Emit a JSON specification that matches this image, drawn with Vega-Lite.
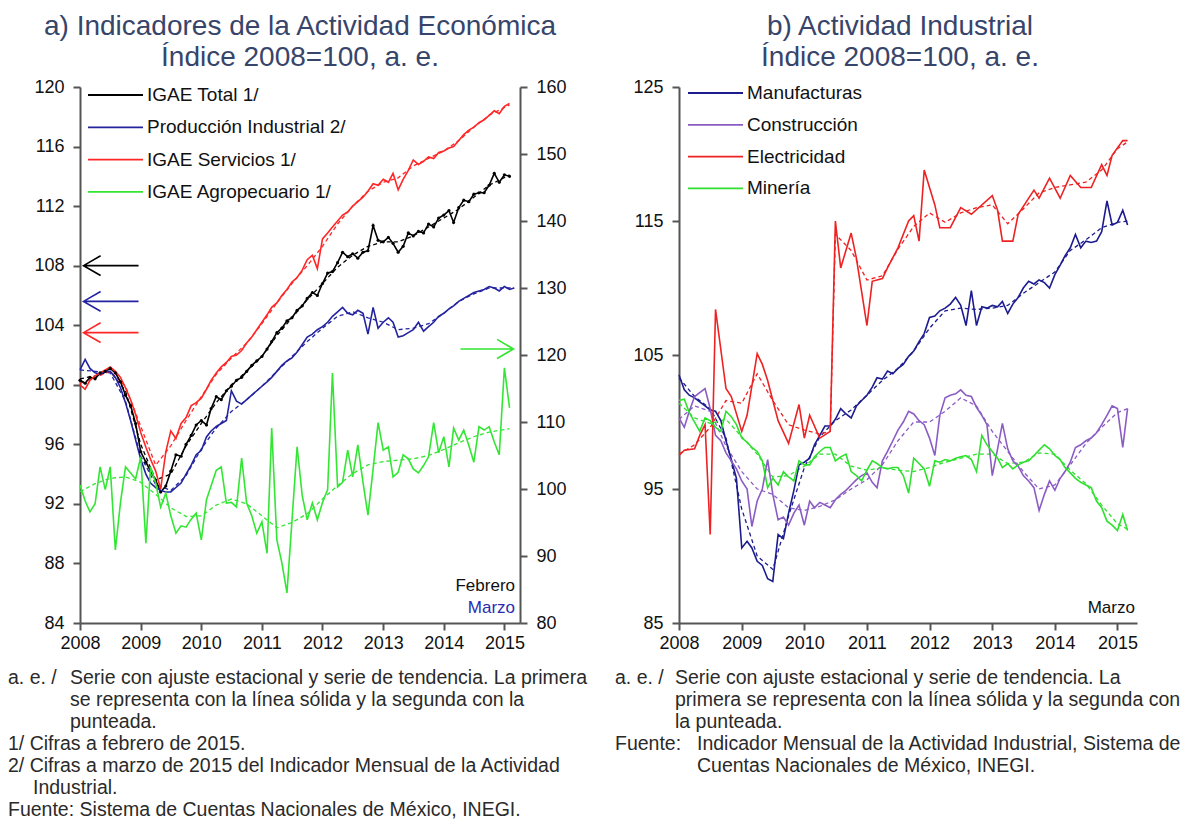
{
  "$schema": "https://vega.github.io/schema/vega-lite/v6.json",
  "padding": {"left": 8, "top": 13, "right": 0, "bottom": 0},
  "datasets": {
    "a_ae": [
      {"fecha":"2008-01","T":100.3,"P":101.0,"S":100.0,"A":100.6},
      {"fecha":"2008-02","T":100.1,"P":101.7,"S":99.7,"A":98.2},
      {"fecha":"2008-03","T":100.5,"P":101.1,"S":100.3,"A":96.6},
      {"fecha":"2008-04","T":100.4,"P":100.8,"S":100.6,"A":97.8},
      {"fecha":"2008-05","T":100.8,"P":100.7,"S":100.8,"A":103.3},
      {"fecha":"2008-06","T":100.9,"P":100.9,"S":101.0,"A":99.9},
      {"fecha":"2008-07","T":101.1,"P":100.9,"S":101.2,"A":103.3},
      {"fecha":"2008-08","T":100.8,"P":100.5,"S":100.9,"A":90.9},
      {"fecha":"2008-09","T":100.2,"P":99.8,"S":100.5,"A":98.0},
      {"fecha":"2008-10","T":99.3,"P":98.8,"S":99.8,"A":103.3},
      {"fecha":"2008-11","T":98.6,"P":97.6,"S":99.0,"A":102.4},
      {"fecha":"2008-12","T":97.4,"P":96.3,"S":98.0,"A":101.5},
      {"fecha":"2009-01","T":95.5,"P":95.0,"S":96.8,"A":104.8},
      {"fecha":"2009-02","T":94.8,"P":94.0,"S":95.8,"A":91.9},
      {"fecha":"2009-03","T":94.2,"P":93.4,"S":95.0,"A":103.3},
      {"fecha":"2009-04","T":93.6,"P":93.1,"S":94.2,"A":100.9},
      {"fecha":"2009-05","T":92.8,"P":92.9,"S":93.0,"A":97.3},
      {"fecha":"2009-06","T":93.2,"P":92.8,"S":95.5,"A":99.4},
      {"fecha":"2009-07","T":94.2,"P":92.8,"S":96.9,"A":96.0},
      {"fecha":"2009-08","T":95.3,"P":93.1,"S":96.4,"A":93.4},
      {"fecha":"2009-09","T":95.2,"P":93.4,"S":97.4,"A":94.5},
      {"fecha":"2009-10","T":96.0,"P":94.0,"S":97.8,"A":94.3},
      {"fecha":"2009-11","T":96.6,"P":94.6,"S":98.6,"A":95.5},
      {"fecha":"2009-12","T":97.3,"P":95.3,"S":98.8,"A":96.4},
      {"fecha":"2010-01","T":97.6,"P":95.6,"S":99.1,"A":92.4},
      {"fecha":"2010-02","T":97.3,"P":96.5,"S":99.7,"A":98.4},
      {"fecha":"2010-03","T":98.4,"P":96.9,"S":100.3,"A":100.5},
      {"fecha":"2010-04","T":99.2,"P":97.2,"S":100.8,"A":102.8},
      {"fecha":"2010-05","T":99.0,"P":97.4,"S":101.2,"A":103.3},
      {"fecha":"2010-06","T":99.6,"P":97.6,"S":101.5,"A":97.9},
      {"fecha":"2010-07","T":99.9,"P":99.6,"S":101.9,"A":98.0},
      {"fecha":"2010-08","T":100.3,"P":98.9,"S":102.0,"A":97.3},
      {"fecha":"2010-09","T":100.5,"P":98.7,"S":102.3,"A":104.6},
      {"fecha":"2010-10","T":100.9,"P":99.0,"S":102.8,"A":97.9},
      {"fecha":"2010-11","T":101.3,"P":99.3,"S":103.2,"A":96.0},
      {"fecha":"2010-12","T":101.6,"P":99.6,"S":103.7,"A":93.4},
      {"fecha":"2011-01","T":101.9,"P":99.9,"S":104.2,"A":95.1},
      {"fecha":"2011-02","T":102.4,"P":100.2,"S":104.7,"A":90.4},
      {"fecha":"2011-03","T":102.9,"P":100.5,"S":105.2,"A":109.1},
      {"fecha":"2011-04","T":103.5,"P":100.9,"S":105.5,"A":92.4},
      {"fecha":"2011-05","T":103.8,"P":101.3,"S":106.0,"A":89.0},
      {"fecha":"2011-06","T":104.3,"P":101.6,"S":106.4,"A":84.5},
      {"fecha":"2011-07","T":104.5,"P":101.8,"S":106.9},
      {"fecha":"2011-08","T":105.0,"P":102.2,"S":107.2,"A":106.3},
      {"fecha":"2011-09","T":105.3,"P":102.7,"S":107.7,"A":99.0},
      {"fecha":"2011-10","T":105.8,"P":103.2,"S":108.4,"A":95.4},
      {"fecha":"2011-11","T":106.2,"P":103.4,"S":108.7,"A":97.9},
      {"fecha":"2011-12","T":106.0,"P":103.7,"S":107.8,"A":95.4},
      {"fecha":"2012-01","T":106.8,"P":103.9,"S":109.8,"A":98.0},
      {"fecha":"2012-02","T":107.5,"P":104.2,"S":110.2,"A":99.9},
      {"fecha":"2012-03","T":107.6,"P":104.6,"S":110.6,"A":117.3},
      {"fecha":"2012-04","T":108.2,"P":104.9,"S":111.0,"A":100.3},
      {"fecha":"2012-05","T":108.9,"P":105.2,"S":111.4,"A":101.0},
      {"fecha":"2012-06","T":108.6,"P":104.8,"S":111.6,"A":105.8},
      {"fecha":"2012-07","T":108.8,"P":104.7,"S":112.0,"A":101.8},
      {"fecha":"2012-08","T":108.5,"P":105.0,"S":112.3,"A":106.6},
      {"fecha":"2012-09","T":108.9,"P":104.8,"S":112.6,"A":101.0},
      {"fecha":"2012-10","T":109.0,"P":103.4,"S":113.0,"A":96.1},
      {"fecha":"2012-11","T":110.7,"P":105.2,"S":113.5,"A":103.0},
      {"fecha":"2012-12","T":109.7,"P":103.8,"S":113.4,"A":109.9},
      {"fecha":"2013-01","T":109.6,"P":104.2,"S":113.8,"A":105.8},
      {"fecha":"2013-02","T":109.9,"P":104.5,"S":113.6,"A":106.3},
      {"fecha":"2013-03","T":109.5,"P":104.2,"S":114.2,"A":101.8},
      {"fecha":"2013-04","T":108.9,"P":103.2,"S":113.1,"A":102.5},
      {"fecha":"2013-05","T":109.3,"P":103.3,"S":113.8,"A":105.1},
      {"fecha":"2013-06","T":110.2,"P":103.5,"S":114.4,"A":104.5},
      {"fecha":"2013-07","T":110.0,"P":103.7,"S":115.1,"A":103.0},
      {"fecha":"2013-08","T":110.3,"P":104.2,"S":114.8,"A":102.4},
      {"fecha":"2013-09","T":110.2,"P":103.6,"S":115.0,"A":103.5},
      {"fecha":"2013-10","T":110.8,"P":103.9,"S":115.3,"A":104.8},
      {"fecha":"2013-11","T":110.6,"P":104.2,"S":115.2,"A":109.9},
      {"fecha":"2013-12","T":111.2,"P":104.6,"S":115.6,"A":105.4},
      {"fecha":"2014-01","T":111.4,"P":104.8,"S":115.7,"A":107.8},
      {"fecha":"2014-02","T":111.7,"P":105.1,"S":115.9,"A":103.3},
      {"fecha":"2014-03","T":110.9,"P":105.3,"S":116.0,"A":109.1},
      {"fecha":"2014-04","T":111.9,"P":105.6,"S":116.4,"A":107.3},
      {"fecha":"2014-05","T":112.4,"P":105.8,"S":116.8,"A":108.8},
      {"fecha":"2014-06","T":112.3,"P":106.0,"S":117.1,"A":106.5},
      {"fecha":"2014-07","T":112.8,"P":106.2,"S":117.3,"A":104.0},
      {"fecha":"2014-08","T":112.9,"P":106.3,"S":117.6,"A":109.3},
      {"fecha":"2014-09","T":112.9,"P":106.4,"S":117.8,"A":108.8},
      {"fecha":"2014-10","T":113.4,"P":106.6,"S":118.1,"A":109.3},
      {"fecha":"2014-11","T":114.2,"P":106.5,"S":118.4,"A":107.0},
      {"fecha":"2014-12","T":113.6,"P":106.3,"S":118.2,"A":105.1},
      {"fecha":"2015-01","T":114.1,"P":106.6,"S":118.7,"A":118.1},
      {"fecha":"2015-02","T":114.0,"P":106.4,"S":118.9,"A":112.1},
      {"fecha":"2015-03","P":106.5}
    ],
    "a_tend": [
      {"fecha":"2008-01","T":100.4,"P":101.0,"S":100.1,"A":99.6},
      {"fecha":"2008-04","T":100.6,"P":100.9,"S":100.5,"A":100.8},
      {"fecha":"2008-07","T":100.9,"P":100.8,"S":100.9,"A":101.6},
      {"fecha":"2008-10","T":99.6,"P":98.9,"S":99.9,"A":101.8},
      {"fecha":"2009-01","T":96.0,"P":95.2,"S":97.2,"A":101.0},
      {"fecha":"2009-04","T":93.6,"P":93.3,"S":94.6,"A":99.2},
      {"fecha":"2009-07","T":94.0,"P":92.9,"S":95.9,"A":97.2},
      {"fecha":"2009-10","T":95.9,"P":93.9,"S":97.6,"A":95.9},
      {"fecha":"2010-01","T":97.4,"P":95.7,"S":99.2,"A":96.0},
      {"fecha":"2010-04","T":98.8,"P":97.1,"S":100.7,"A":97.6},
      {"fecha":"2010-07","T":100.0,"P":98.2,"S":101.8,"A":98.5},
      {"fecha":"2010-10","T":100.9,"P":99.0,"S":102.8,"A":97.8},
      {"fecha":"2011-01","T":101.9,"P":99.9,"S":104.1,"A":96.0},
      {"fecha":"2011-04","T":103.3,"P":100.9,"S":105.5,"A":94.2},
      {"fecha":"2011-07","T":104.5,"P":101.9,"S":106.8,"A":95.0},
      {"fecha":"2011-10","T":105.7,"P":102.9,"S":108.0,"A":96.3},
      {"fecha":"2012-01","T":106.8,"P":103.8,"S":109.3,"A":98.5},
      {"fecha":"2012-04","T":107.9,"P":104.6,"S":110.8,"A":100.5},
      {"fecha":"2012-07","T":108.7,"P":104.9,"S":112.0,"A":102.3},
      {"fecha":"2012-10","T":109.3,"P":104.5,"S":113.0,"A":103.6},
      {"fecha":"2013-01","T":109.6,"P":104.2,"S":113.6,"A":104.1},
      {"fecha":"2013-04","T":109.6,"P":103.7,"S":113.9,"A":104.3},
      {"fecha":"2013-07","T":110.0,"P":103.8,"S":114.7,"A":104.5},
      {"fecha":"2013-10","T":110.6,"P":104.1,"S":115.2,"A":105.0},
      {"fecha":"2014-01","T":111.2,"P":104.8,"S":115.7,"A":105.9},
      {"fecha":"2014-04","T":111.8,"P":105.6,"S":116.4,"A":106.9},
      {"fecha":"2014-07","T":112.6,"P":106.1,"S":117.3,"A":107.8},
      {"fecha":"2014-10","T":113.4,"P":106.5,"S":118.1,"A":108.5},
      {"fecha":"2015-02","T":114.1,"P":106.5,"S":118.8,"A":109.0},
      {"fecha":"2015-03","P":106.5}
    ],
    "a_flechas": [
      {"fecha":"2008-07-06","valor":108.0,"serie":"T"},
      {"fecha":"2008-07-06","valor":105.6,"serie":"P"},
      {"fecha":"2008-07-06","valor":103.5,"serie":"S"},
      {"fecha":"2014-09-18","valor":120.9,"serie":"A"}
    ],
    "a_textos": [
      {"fecha":"2015-03-06","valor":86.5,"texto":"Febrero"},
      {"fecha":"2015-03-06","valor":85.0,"texto":"Marzo"}
    ],
    "b_ae": [
      {"fecha":"2008-01","M":103.5,"C":100.3,"E":97.5,"Mi":101.6},
      {"fecha":"2008-02","M":102.4,"C":99.6,"E":97.9,"Mi":101.7},
      {"fecha":"2008-03","M":102.0,"C":100.8,"Mi":100.7},
      {"fecha":"2008-04","M":101.8,"C":101.9,"E":98.0},
      {"fecha":"2008-05","M":101.5,"C":102.2,"E":99.0,"Mi":99.3},
      {"fecha":"2008-06","M":101.2,"C":102.5,"E":99.8,"Mi":100.3},
      {"fecha":"2008-07","M":100.9,"C":101.0,"E":91.6,"Mi":100.1},
      {"fecha":"2008-08","M":100.8,"C":99.0,"E":108.4,"Mi":99.6},
      {"fecha":"2008-09","M":100.1,"C":98.6,"Mi":99.3},
      {"fecha":"2008-10","M":98.6,"C":97.7,"E":102.5,"Mi":100.8},
      {"fecha":"2008-11","M":97.2,"C":97.1,"E":101.9,"Mi":100.4},
      {"fecha":"2008-12","M":95.8,"C":96.5,"Mi":99.8},
      {"fecha":"2009-01","M":90.6,"C":95.6,"E":99.3,"Mi":98.8},
      {"fecha":"2009-02","M":91.1,"C":95.0,"E":100.5,"Mi":98.5},
      {"fecha":"2009-03","M":90.6,"C":92.2,"Mi":98.1},
      {"fecha":"2009-04","M":89.6,"C":94.1,"E":105.1,"Mi":97.8},
      {"fecha":"2009-05","M":89.3,"C":95.0,"E":104.3,"Mi":97.1},
      {"fecha":"2009-06","M":88.3,"C":97.2,"E":103.1,"Mi":95.1},
      {"fecha":"2009-07","M":88.1,"C":94.6,"Mi":95.8},
      {"fecha":"2009-08","M":91.6,"C":92.7,"E":100.1,"Mi":95.3},
      {"fecha":"2009-09","M":91.3,"C":92.9,"Mi":96.3},
      {"fecha":"2009-10","M":93.2,"C":92.3,"E":98.4,"Mi":95.9},
      {"fecha":"2009-11","M":94.9,"C":93.2,"Mi":95.6},
      {"fecha":"2009-12","M":96.8,"C":93.8,"E":101.3,"Mi":97.1},
      {"fecha":"2010-01","M":97.0,"C":92.3,"E":98.8,"Mi":96.8},
      {"fecha":"2010-02","M":97.3,"C":94.1,"E":100.5,"Mi":96.8},
      {"fecha":"2010-03","M":98.3,"C":93.6,"Mi":97.4},
      {"fecha":"2010-04","M":99.0,"C":94.0,"E":98.8,"Mi":97.8},
      {"fecha":"2010-05","M":99.7,"C":93.8,"Mi":98.1},
      {"fecha":"2010-06","M":99.7,"C":93.6,"E":99.3,"Mi":98.1},
      {"fecha":"2010-07","M":100.2,"C":94.2,"E":115.0,"Mi":97.1},
      {"fecha":"2010-08","M":101.0,"C":94.6,"E":111.5,"Mi":97.4},
      {"fecha":"2010-09","M":100.6,"C":94.9,"Mi":97.6},
      {"fecha":"2010-10","M":100.3,"C":95.3,"E":114.1,"Mi":96.3},
      {"fecha":"2010-11","M":101.2,"C":95.7,"E":112.2,"Mi":96.0},
      {"fecha":"2010-12","M":101.6,"C":96.0,"Mi":95.6},
      {"fecha":"2011-01","M":102.0,"C":96.2,"E":107.2,"Mi":96.4},
      {"fecha":"2011-02","M":102.6,"C":95.5,"E":110.5,"Mi":97.1},
      {"fecha":"2011-03","M":103.3,"C":95.1,"Mi":96.9},
      {"fecha":"2011-04","M":103.2,"C":97.1,"E":110.7,"Mi":96.6},
      {"fecha":"2011-05","M":103.8,"C":97.8,"E":111.5,"Mi":96.5},
      {"fecha":"2011-06","M":103.6,"C":98.6,"Mi":96.6},
      {"fecha":"2011-07","M":104.0,"C":99.4,"E":113.0,"Mi":96.6},
      {"fecha":"2011-08","M":104.3,"C":100.0,"Mi":96.0},
      {"fecha":"2011-09","M":104.9,"C":100.8,"E":115.0,"Mi":94.7},
      {"fecha":"2011-10","M":105.3,"C":100.6,"E":115.4,"Mi":97.3},
      {"fecha":"2011-11","M":106.0,"C":100.1,"E":113.5,"Mi":96.9},
      {"fecha":"2011-12","M":106.6,"C":99.8,"E":118.8,"Mi":96.5},
      {"fecha":"2012-01","M":107.8,"C":98.8,"Mi":95.2},
      {"fecha":"2012-02","M":107.9,"C":97.5,"E":116.2,"Mi":97.1},
      {"fecha":"2012-03","M":108.3,"C":100.5,"E":114.5,"Mi":97.0},
      {"fecha":"2012-04","M":108.5,"C":101.8,"Mi":97.2},
      {"fecha":"2012-05","M":108.8,"C":102.0,"E":114.5,"Mi":97.1},
      {"fecha":"2012-06","M":109.3,"C":102.1,"Mi":97.3},
      {"fecha":"2012-07","M":108.7,"C":102.4,"E":116.0,"Mi":97.4},
      {"fecha":"2012-08","M":107.2,"C":102.0,"Mi":97.5},
      {"fecha":"2012-09","M":109.8,"C":101.9,"E":115.5,"Mi":97.2},
      {"fecha":"2012-10","M":107.2,"C":101.1,"Mi":96.3},
      {"fecha":"2012-11","M":108.6,"C":100.5,"Mi":99.0},
      {"fecha":"2012-12","M":108.5,"C":99.8,"Mi":98.3},
      {"fecha":"2013-01","M":108.7,"C":96.0,"E":116.9,"Mi":97.8},
      {"fecha":"2013-02","M":108.6,"C":98.0,"E":115.8,"Mi":97.3},
      {"fecha":"2013-03","M":109.0,"C":99.9,"E":113.5,"Mi":96.6},
      {"fecha":"2013-04","M":108.1,"C":98.0,"Mi":96.9},
      {"fecha":"2013-05","M":108.8,"C":97.1,"E":113.5,"Mi":96.5},
      {"fecha":"2013-06","M":109.3,"C":96.7,"E":115.5,"Mi":96.8},
      {"fecha":"2013-07","M":110.0,"C":96.0,"Mi":97.0},
      {"fecha":"2013-08","M":110.5,"C":95.6,"Mi":97.1},
      {"fecha":"2013-09","M":110.3,"C":95.1,"E":117.3,"Mi":97.5},
      {"fecha":"2013-10","M":110.6,"C":93.4,"E":116.7,"Mi":97.9},
      {"fecha":"2013-11","M":110.4,"C":94.6,"Mi":98.3},
      {"fecha":"2013-12","M":110.0,"C":95.6,"E":118.2,"Mi":98.0},
      {"fecha":"2014-01","M":111.0,"C":94.9,"Mi":97.5},
      {"fecha":"2014-02","M":111.7,"C":95.8,"E":116.7,"Mi":97.2},
      {"fecha":"2014-03","M":112.4,"C":96.3,"Mi":96.6},
      {"fecha":"2014-04","M":113.0,"C":97.0,"E":118.4,"Mi":96.2},
      {"fecha":"2014-05","M":114.0,"C":98.1,"Mi":95.8},
      {"fecha":"2014-06","M":113.0,"C":98.3,"E":117.5,"Mi":95.5},
      {"fecha":"2014-07","M":113.5,"C":98.6,"Mi":95.3},
      {"fecha":"2014-08","M":113.4,"C":98.8,"E":117.5,"Mi":95.1},
      {"fecha":"2014-09","M":113.5,"C":99.2,"Mi":94.1},
      {"fecha":"2014-10","M":114.2,"C":99.8,"E":119.2,"Mi":93.6},
      {"fecha":"2014-11","M":116.5,"C":100.5,"E":118.4,"Mi":92.6},
      {"fecha":"2014-12","M":114.7,"C":101.2,"E":119.9,"Mi":92.3},
      {"fecha":"2015-01","M":114.9,"C":101.0,"Mi":91.9},
      {"fecha":"2015-02","M":115.8,"C":98.1,"E":121.0,"Mi":93.1},
      {"fecha":"2015-03","M":114.7,"C":101.0,"E":121.0,"Mi":91.9}
    ],
    "b_tend": [
      {"fecha":"2008-01","M":103.3,"C":100.2,"E":97.6,"Mi":101.4},
      {"fecha":"2008-04","M":101.9,"C":101.2,"E":98.3,"Mi":100.3},
      {"fecha":"2008-07","M":101.0,"C":100.8,"E":99.6,"Mi":99.9},
      {"fecha":"2008-10","M":98.8,"C":98.2,"E":101.6,"Mi":100.2},
      {"fecha":"2009-01","M":93.5,"C":96.3,"E":101.4,"Mi":98.9},
      {"fecha":"2009-04","M":90.0,"C":95.0,"E":103.6,"Mi":97.6},
      {"fecha":"2009-07","M":89.0,"C":94.6,"E":101.6,"Mi":95.9},
      {"fecha":"2009-10","M":93.0,"C":93.6,"E":99.8,"Mi":96.0},
      {"fecha":"2010-01","M":96.6,"C":93.4,"E":99.4,"Mi":96.7},
      {"fecha":"2010-04","M":98.9,"C":93.7,"E":99.1,"Mi":97.6},
      {"fecha":"2010-06","E":99.3},
      {"fecha":"2010-07","M":100.1,"C":94.2,"E":114.0,"Mi":97.6},
      {"fecha":"2010-10","M":100.9,"C":95.0,"E":112.8,"Mi":96.7},
      {"fecha":"2011-01","M":102.0,"C":95.7,"E":110.6,"Mi":96.4},
      {"fecha":"2011-04","M":103.1,"C":96.8,"E":110.9,"Mi":96.6},
      {"fecha":"2011-07","M":104.0,"C":98.6,"E":112.9,"Mi":96.4},
      {"fecha":"2011-10","M":105.3,"C":100.0,"E":114.6,"Mi":96.3},
      {"fecha":"2012-01","M":107.0,"C":100.0,"E":115.6,"Mi":96.6},
      {"fecha":"2012-04","M":108.3,"C":100.8,"E":114.9,"Mi":97.0},
      {"fecha":"2012-07","M":108.5,"C":101.8,"E":115.6,"Mi":97.3},
      {"fecha":"2012-10","M":108.4,"C":101.2,"E":116.0,"Mi":97.6},
      {"fecha":"2013-01","M":108.5,"C":99.3,"E":116.2,"Mi":97.6},
      {"fecha":"2013-04","M":108.7,"C":97.8,"E":114.8,"Mi":96.9},
      {"fecha":"2013-07","M":109.6,"C":96.3,"E":115.9,"Mi":97.0},
      {"fecha":"2013-10","M":110.4,"C":95.0,"E":117.1,"Mi":97.7},
      {"fecha":"2014-01","M":111.2,"C":95.3,"E":117.5,"Mi":97.6},
      {"fecha":"2014-04","M":112.8,"C":96.8,"E":117.7,"Mi":96.4},
      {"fecha":"2014-07","M":113.6,"C":98.4,"E":117.9,"Mi":95.4},
      {"fecha":"2014-10","M":114.5,"C":99.6,"E":118.8,"Mi":93.8},
      {"fecha":"2015-01","M":114.9,"C":100.7,"E":120.4,"Mi":92.4},
      {"fecha":"2015-03","M":115.0,"C":101.0,"E":120.9,"Mi":92.0}
    ],
    "b_textos": [
      {"fecha":"2015-04-13","valor":86.1,"texto":"Marzo"}
    ],
    "a_notas": [
      {"linea":1,"etiqueta":"a. e. /","texto":"Serie con ajuste estacional y serie de tendencia. La primera"},
      {"linea":2,"texto":"se representa con la línea sólida y la segunda con la"},
      {"linea":3,"texto":"punteada."},
      {"linea":4,"etiqueta":"1/ Cifras a febrero de 2015."},
      {"linea":5,"etiqueta":"2/ Cifras a marzo de 2015 del Indicador Mensual de la Actividad"},
      {"linea":6,"continua":"Industrial."},
      {"linea":7,"etiqueta":"Fuente: Sistema de Cuentas Nacionales de México, INEGI."}
    ],
    "b_notas": [
      {"linea":1,"etiqueta":"a. e. /","texto":"Serie con ajuste estacional y serie de tendencia. La"},
      {"linea":2,"texto":"primera se representa con la línea sólida y la segunda con"},
      {"linea":3,"texto":"la punteada."},
      {"linea":4,"etiqueta":"Fuente:","continua":"Indicador Mensual de la Actividad Industrial, Sistema de"},
      {"linea":5,"continua":"Cuentas Nacionales de México, INEGI."}
    ]
  },
  "columns": 2,
  "bounds": "flush",
  "spacing": {"row": 44, "column": 159},
  "resolve": {"scale": {"color": "independent"}, "legend": {"color": "independent"}},
  "concat": [
    {
      "width": 440,
      "height": 536,
      "title": {"text": ["a) Indicadores de la Actividad Económica", "Índice 2008=100, a. e."]},
      "encoding": {
        "x": {
          "field": "fecha", "type": "temporal",
          "scale": {"type": "utc", "domain": [{"year":2008,"month":1,"date":1,"utc":true},{"year":2015,"month":4,"date":5,"utc":true}]},
          "axis": {"title": null, "format": "%Y", "values": [
            {"year":2008,"month":1,"date":1,"utc":true},{"year":2009,"month":1,"date":1,"utc":true},
            {"year":2010,"month":1,"date":1,"utc":true},{"year":2011,"month":1,"date":1,"utc":true},
            {"year":2012,"month":1,"date":1,"utc":true},{"year":2013,"month":1,"date":1,"utc":true},
            {"year":2014,"month":1,"date":1,"utc":true},{"year":2015,"month":1,"date":1,"utc":true}]}
        },
        "color": {
          "field": "serie", "type": "nominal",
          "scale": {"domain": ["T","P","S","A"], "range": ["#000000","#2323a0","#ff2626","#33e633"]},
          "legend": {
            "orient": "none", "legendX": 7, "legendY": -3, "title": null,
            "symbolType": "M-1,0H4.5", "symbolSize": 400, "symbolStrokeWidth": 1.8,
            "symbolDash": [1, 0], "symbolOpacity": 1,
            "labelFontSize": 19, "labelColor": "#111", "labelOffset": 38, "rowPadding": 11.3, "labelLimit": 400,
            "labelExpr": "datum.label == 'T' ? 'IGAE Total 1/' : datum.label == 'P' ? 'Producción Industrial 2/' : datum.label == 'S' ? 'IGAE Servicios 1/' : 'IGAE Agropecuario 1/'"
          }
        }
      },
      "layer": [
        {
          "encoding": {
            "y": {"field": "valor", "type": "quantitative",
              "scale": {"domain": [84, 120], "nice": false, "zero": false},
              "axis": {"title": null, "orient": "left", "values": [84,88,92,96,100,104,108,112,116,120]}}
          },
          "layer": [
            {"data": {"name": "a_tend"},
             "transform": [{"fold": ["T","P","S"], "as": ["serie","valor"]}, {"filter": "isValid(datum.valor)"}],
             "mark": {"type": "line", "strokeWidth": 1.3, "strokeDash": [4, 3]}},
            {"data": {"name": "a_ae"},
             "transform": [{"fold": ["T","P","S"], "as": ["serie","valor"]}, {"filter": "isValid(datum.valor)"}],
             "mark": {"type": "line", "strokeWidth": 1.6}},
            {"data": {"name": "a_ae"},
             "transform": [{"fold": ["T"], "as": ["serie","valor"]}, {"filter": "isValid(datum.valor)"}],
             "mark": {"type": "point", "filled": true, "size": 10, "opacity": 1}},
            {"data": {"name": "a_flechas"},
             "transform": [{"filter": "datum.serie != 'A'"}],
             "mark": {"type": "point", "shape": "M1,0L-1,0M-0.38,-0.36L-1,0L-0.38,0.36", "size": 3025, "filled": false, "strokeWidth": 1.6, "opacity": 1}},
            {"data": {"name": "a_textos"},
             "transform": [{"filter": "datum.texto == 'Febrero'"}],
             "mark": {"type": "text", "align": "right", "baseline": "middle", "fontSize": 17},
             "encoding": {"text": {"field": "texto"}, "color": {"value": "#111111"}}},
            {"data": {"name": "a_textos"},
             "transform": [{"filter": "datum.texto == 'Marzo'"}],
             "mark": {"type": "text", "align": "right", "baseline": "middle", "fontSize": 17},
             "encoding": {"text": {"field": "texto"}, "color": {"value": "#2b2bb0"}}}
          ]
        },
        {
          "encoding": {
            "y": {"field": "valor", "type": "quantitative",
              "scale": {"domain": [80, 160], "nice": false, "zero": false},
              "axis": {"title": null, "orient": "right", "values": [80,90,100,110,120,130,140,150,160]}}
          },
          "layer": [
            {"data": {"name": "a_tend"},
             "transform": [{"fold": ["A"], "as": ["serie","valor"]}, {"filter": "isValid(datum.valor)"}],
             "mark": {"type": "line", "strokeWidth": 1.3, "strokeDash": [4, 3]}},
            {"data": {"name": "a_ae"},
             "transform": [{"fold": ["A"], "as": ["serie","valor"]}, {"filter": "isValid(datum.valor)"}],
             "mark": {"type": "line", "strokeWidth": 1.6}},
            {"data": {"name": "a_flechas"},
             "transform": [{"filter": "datum.serie == 'A'"}],
             "mark": {"type": "point", "shape": "M-1,0L1,0M0.38,-0.36L1,0L0.38,0.36", "size": 2809, "filled": false, "strokeWidth": 1.6, "opacity": 1}}
          ]
        }
      ],
      "resolve": {"scale": {"y": "independent"}}
    },
    {
      "width": 458,
      "height": 536,
      "title": {"text": ["b) Actividad Industrial", "Índice 2008=100, a. e."], "dx": -8},
      "encoding": {
        "x": {
          "field": "fecha", "type": "temporal",
          "scale": {"type": "utc", "domain": [{"year":2008,"month":1,"date":1,"utc":true},{"year":2015,"month":4,"date":25,"utc":true}]},
          "axis": {"title": null, "format": "%Y", "values": [
            {"year":2008,"month":1,"date":1,"utc":true},{"year":2009,"month":1,"date":1,"utc":true},
            {"year":2010,"month":1,"date":1,"utc":true},{"year":2011,"month":1,"date":1,"utc":true},
            {"year":2012,"month":1,"date":1,"utc":true},{"year":2013,"month":1,"date":1,"utc":true},
            {"year":2014,"month":1,"date":1,"utc":true},{"year":2015,"month":1,"date":1,"utc":true}]}
        },
        "y": {"field": "valor", "type": "quantitative",
          "scale": {"domain": [85, 125], "nice": false, "zero": false},
          "axis": {"title": null, "values": [85,95,105,115,125]}},
        "color": {
          "field": "serie", "type": "nominal",
          "scale": {"domain": ["M","C","E","Mi"], "range": ["#1c1c8f","#8b5cc4","#ee2222","#2fe02f"]},
          "legend": {
            "orient": "none", "legendX": 8, "legendY": -5, "title": null,
            "symbolType": "M-1,0H4.5", "symbolSize": 400, "symbolStrokeWidth": 1.8,
            "symbolDash": [1, 0], "symbolOpacity": 1,
            "labelFontSize": 19, "labelColor": "#111", "labelOffset": 38, "rowPadding": 10.8, "labelLimit": 400,
            "labelExpr": "datum.label == 'M' ? 'Manufacturas' : datum.label == 'C' ? 'Construcción' : datum.label == 'E' ? 'Electricidad' : 'Minería'"
          }
        }
      },
      "layer": [
        {"data": {"name": "b_tend"},
         "transform": [{"fold": ["M","C","E","Mi"], "as": ["serie","valor"]}, {"filter": "isValid(datum.valor)"}],
         "mark": {"type": "line", "strokeWidth": 1.3, "strokeDash": [4, 3]}},
        {"data": {"name": "b_ae"},
         "transform": [{"fold": ["M","C","E","Mi"], "as": ["serie","valor"]}, {"filter": "isValid(datum.valor)"}],
         "mark": {"type": "line", "strokeWidth": 1.6}},
        {"data": {"name": "b_textos"},
         "mark": {"type": "text", "align": "right", "baseline": "middle", "fontSize": 17},
         "encoding": {"text": {"field": "texto"}, "color": {"value": "#111111"}}}
      ]
    },
    {
      "width": 440,
      "height": {"step": 22},
      "data": {"name": "a_notas"},
      "encoding": {
        "y": {"field": "linea", "type": "ordinal", "axis": null},
        "x": {"value": 0}
      },
      "layer": [
        {"transform": [{"filter": "isValid(datum.etiqueta)"}],
         "mark": {"type": "text", "align": "left", "baseline": "middle", "dx": -72, "fontSize": 19.5, "color": "#2a2a2a"},
         "encoding": {"text": {"field": "etiqueta"}}},
        {"transform": [{"filter": "isValid(datum.texto)"}],
         "mark": {"type": "text", "align": "left", "baseline": "middle", "dx": -10, "fontSize": 19.5, "color": "#2a2a2a"},
         "encoding": {"text": {"field": "texto"}}},
        {"transform": [{"filter": "isValid(datum.continua)"}],
         "mark": {"type": "text", "align": "left", "baseline": "middle", "dx": -47, "fontSize": 19.5, "color": "#2a2a2a"},
         "encoding": {"text": {"field": "continua"}}}
      ]
    },
    {
      "width": 458,
      "height": {"step": 22},
      "data": {"name": "b_notas"},
      "encoding": {
        "y": {"field": "linea", "type": "ordinal", "axis": null},
        "x": {"value": 0}
      },
      "layer": [
        {"transform": [{"filter": "isValid(datum.etiqueta)"}],
         "mark": {"type": "text", "align": "left", "baseline": "middle", "dx": -64, "fontSize": 19.5, "color": "#2a2a2a"},
         "encoding": {"text": {"field": "etiqueta"}}},
        {"transform": [{"filter": "isValid(datum.texto)"}],
         "mark": {"type": "text", "align": "left", "baseline": "middle", "dx": -4, "fontSize": 19.5, "color": "#2a2a2a"},
         "encoding": {"text": {"field": "texto"}}},
        {"transform": [{"filter": "isValid(datum.continua)"}],
         "mark": {"type": "text", "align": "left", "baseline": "middle", "dx": 18, "fontSize": 19.5, "color": "#2a2a2a"},
         "encoding": {"text": {"field": "continua"}}}
      ]
    }
  ],
  "config": {
    "font": "Liberation Sans",
    "view": {"stroke": null},
    "axis": {
      "labelFont": "Liberation Sans", "labelFontSize": 18, "labelColor": "#111111",
      "domainColor": "#555555", "domainWidth": 2, "tickColor": "#555555", "tickWidth": 2,
      "tickSize": 7, "grid": false, "labelPadding": 9
    },
    "axisX": {"labelPadding": 4, "labelFlush": false, "labelOverlap": false},
    "legend": {"labelFont": "Liberation Sans"},
    "text": {"font": "Liberation Sans"},
    "title": {"font": "Liberation Sans", "fontSize": 28, "fontWeight": "normal", "color": "#37456a", "lineHeight": 31, "offset": 6, "anchor": "middle"}
  }
}
